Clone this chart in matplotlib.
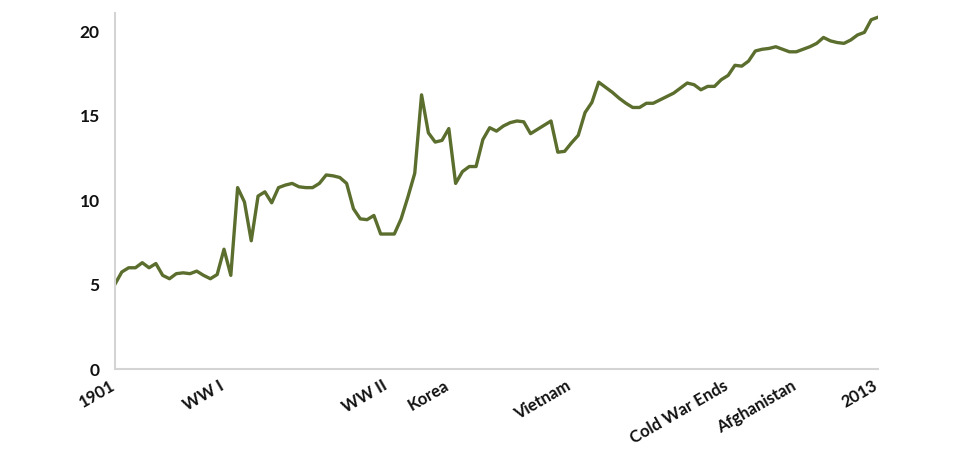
import matplotlib
matplotlib.use("Agg")
import matplotlib.pyplot as plt
from matplotlib.transforms import ScaledTranslation

years = list(range(1901, 2014))
values = [
    5.03, 5.75, 6.0, 6.0, 6.3, 6.0, 6.25, 5.55, 5.35, 5.65,   # 1901-1910
    5.7, 5.65, 5.8, 5.55, 5.35, 5.6, 7.1, 5.55, 10.75, 9.9,   # 1911-1920
    7.6, 10.25, 10.5, 9.85, 10.75, 10.9, 11.0, 10.8, 10.75, 10.75,  # 1921-1930
    11.0, 11.5, 11.45, 11.35, 11.0, 9.5, 8.9, 8.85, 9.1, 8.0,  # 1931-1940
    8.0, 8.0, 8.9, 10.2, 11.6, 16.25, 14.0, 13.45, 13.55, 14.25,  # 1941-1950
    11.0, 11.7, 12.0, 12.0, 13.6, 14.3, 14.1, 14.4, 14.6, 14.7,  # 1951-1960
    14.65, 13.95, 14.2, 14.45, 14.7, 12.85, 12.9, 13.4, 13.85, 15.2,  # 1961-1970
    15.8, 17.0, 16.7, 16.4, 16.05, 15.75, 15.5, 15.5, 15.75, 15.75,  # 1971-1980
    15.95, 16.15, 16.35, 16.65, 16.95, 16.85, 16.55, 16.75, 16.75, 17.15,  # 1981-1990
    17.4, 18.0, 17.95, 18.25, 18.85, 18.95, 19.0, 19.1, 18.95, 18.8,  # 1991-2000
    18.8, 18.95, 19.1, 19.3, 19.65, 19.45, 19.35, 19.3, 19.5, 19.8,  # 2001-2010
    19.95, 20.7, 20.85,  # 2011-2013
]

tick_years = [1901, 1917, 1941, 1950, 1968, 1991, 2001, 2013]
tick_labels = ["1901", "WW I", "WW II", "Korea", "Vietnam", "Cold War Ends", "Afghanistan", "2013"]
y_ticks = [0, 5, 10, 15, 20]

plt.rcParams["font.family"] = ["Lato", "DejaVu Sans"]

fig = plt.figure(figsize=(9.6, 4.62), dpi=100)
ax = fig.add_axes([115/960, 1 - 369/462, (878-115)/960, (369-13)/462])

ax.plot(years, values, color="#5b6e2d", linewidth=2.4, solid_joinstyle="round")

ax.set_xlim(1901, 2013)
ax.set_ylim(0, 21.1)
ax.set_yticks(y_ticks)
ax.set_yticklabels([str(v) for v in y_ticks], fontsize=12.5, fontweight="bold", color="#111111")
ax.set_xticks(tick_years)
ax.set_xticklabels(tick_labels, rotation=30, ha="right", rotation_mode="anchor",
                   fontsize=12, fontweight="bold", color="#111111")
ax.tick_params(axis="both", length=0)
ax.tick_params(axis="y", pad=11)
ax.tick_params(axis="x", pad=6)

offset = ScaledTranslation(-4/72, 0, fig.dpi_scale_trans)
for lab in ax.get_xticklabels():
    lab.set_transform(lab.get_transform() + offset)

for s in ["top", "right"]:
    ax.spines[s].set_visible(False)
for s in ["left", "bottom"]:
    ax.spines[s].set_color("#d4d4d4")
    ax.spines[s].set_linewidth(1.5)

fig.savefig("out.png", dpi=100)
